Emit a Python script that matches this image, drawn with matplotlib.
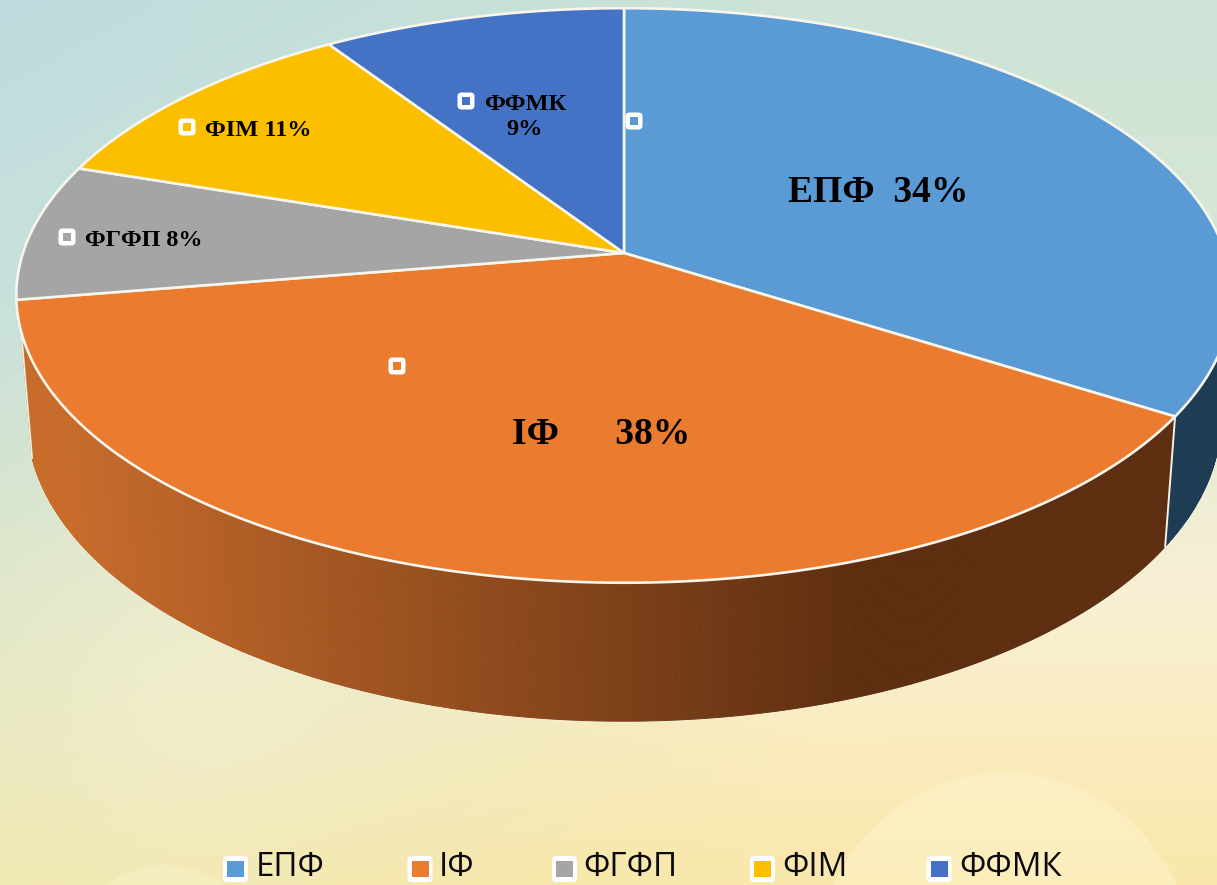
import numpy as np
import matplotlib
matplotlib.use("Agg")
import matplotlib.pyplot as plt
from matplotlib.colors import to_rgb
from matplotlib.patches import FancyBboxPatch, Circle

categories = ["ЕПФ", "ІФ", "ФГФП", "ФІМ", "ФФМК"]
shares = [34.0, 38.4, 7.7, 10.6, 9.3]
top_colors = ["#5B9BD5", "#EA7B2F", "#A5A5A5", "#FCBF00", "#4472C4"]
side_start = ["#1F3C55", "#C86C2C", "#7A7A7A", "#9A7500", "#2A4578"]
side_end = ["#1F3C55", "#5E2E11", "#5A5A5A", "#7A5D00", "#223A66"]

W, H = 1217, 885
fig = plt.figure(figsize=(W / 100, H / 100), dpi=100)
ax = fig.add_axes([0, 0, 1, 1])

# background
gy = np.array([0, 300, 600, 885]) / H
left = np.array([[190, 220, 222], [200, 225, 220], [222, 230, 200], [240, 232, 175]], float) / 255
right = np.array([[205, 228, 214], [216, 232, 215], [250, 240, 212], [250, 232, 170]], float) / 255
yy, xx = np.mgrid[0:1:300j, 0:1:300j]
lc = np.stack([np.interp(yy[:, 0], gy, left[:, k]) for k in range(3)], axis=1)
rc = np.stack([np.interp(yy[:, 0], gy, right[:, k]) for k in range(3)], axis=1)
u = np.clip(xx[0] * 1.5, 0, 1)[None, :, None]
bg = lc[:, None, :] * (1 - u) + rc[:, None, :] * u
glow = np.exp(-(((xx * W - 190) / 230) ** 2 + ((yy * H - 700) / 170) ** 2))[..., None] * 0.45
bg = bg * (1 - glow) + np.array([247, 242, 215]) / 255 * glow
ax.imshow(bg, extent=[0, W, H, 0], aspect="auto", zorder=0, interpolation="bilinear")
ax.set_xlim(0, W)
ax.set_ylim(H, 0)
ax.axis("off")
for cx, cy, r, a in [(1005, 960, 187, 0.38), (165, 960, 95, 0.3)]:
    ax.add_patch(Circle((cx, cy), r, fc="#FFF8D8", ec="none", alpha=a, zorder=0.5))

# perspective disc
X0, Y0, A, B, K = 624, 253, 601, 281, 0.1478
SX, SY, DEPTH = 0.982, 1.05, 122
WALL_TOP = 330


def top_xy(theta):
    u, v = np.sin(theta), np.cos(theta)
    w = 1 + K * v
    return X0 + A * u / w, Y0 - B * v / w


def low_xy(theta):
    x, y = top_xy(theta)
    return X0 + SX * (x - X0), Y0 + DEPTH + SY * (y - Y0)


fr = np.cumsum([0] + shares) / sum(shares) * 2 * np.pi

# side walls: only the first two wedges face the viewer
for i in range(2):
    n = max(int((fr[i + 1] - fr[i]) * 200), 2)
    th = np.linspace(fr[i], fr[i + 1], n + 1)
    x1, y1 = top_xy(th)
    x2, y2 = low_xy(th)
    c0, c1 = np.array(to_rgb(side_start[i])), np.array(to_rgb(side_end[i]))
    keep = (y2 > y1) & (np.gradient(x2) != 0)
    if i == 1:
        keep &= y1 > WALL_TOP
    else:
        keep &= th > 0.35 * np.pi
    idx = np.flatnonzero(keep[:-1] & keep[1:])
    ax.plot(x2[idx], y2[idx], color="#F8F4E4", lw=1.6, zorder=0.9)
    for j in idx:
        s = np.clip((x1[j] - 60) / 800, 0, 1)
        col = c0 * (1 - s) + c1 * s
        ax.fill([x1[j], x1[j + 1], x2[j + 1], x2[j]],
                [y1[j], y1[j + 1], y2[j + 1], y2[j]],
                fc=col, ec=col, lw=0.7, zorder=1)
    if i == 1:
        j = idx[-1]
        ax.plot([x1[j], x2[j]], [y1[j], y2[j]], color="#F4F2E6", lw=1.2, zorder=1.2)

# top faces
for i, (a0, a1) in enumerate(zip(fr[:-1], fr[1:])):
    th = np.linspace(a0, a1, 240)
    x, y = top_xy(th)
    ax.fill(np.r_[X0, x], np.r_[Y0, y], fc=top_colors[i], ec="#F8F6EC", lw=1.9,
            joinstyle="round", zorder=2)

# seam between the two visible walls
xa, ya = top_xy(fr[1])
xb, yb = low_xy(fr[1])
ax.plot([xa, xb], [ya, yb], color="#F4F2E6", lw=1.4, zorder=1.5)

serif = "Liberation Serif"
ax.text(878, 193, "ЕПФ  34%", family=serif, weight="bold", size=27, ha="center", va="center", zorder=4)
ax.text(601, 434, "ІФ      38%", family=serif, weight="bold", size=27, ha="center", va="center", zorder=4)
ax.text(144, 240, "ФГФП 8%", family=serif, weight="bold", size=17.4, ha="center", va="center", zorder=4)
ax.text(258.5, 131, "ФІМ 11%", family=serif, weight="bold", size=17.5, ha="center", va="center", zorder=4)
ax.text(525, 117, "ФФМК\n9%", family=serif, weight="bold", size=17.5, ha="center", va="center",
        linespacing=1.3, zorder=4)


def key(x, y, color, outer_w, outer_h, inner_w, inner_h, rounding):
    ax.add_patch(FancyBboxPatch((x - outer_w / 2 + rounding, y - outer_h / 2 + rounding),
                                outer_w - 2 * rounding, outer_h - 2 * rounding,
                                boxstyle=f"round,pad={rounding},rounding_size={rounding}",
                                fc="white", ec="none", zorder=4))
    ax.fill([x - inner_w / 2, x + inner_w / 2, x + inner_w / 2, x - inner_w / 2],
            [y - inner_h / 2, y - inner_h / 2, y + inner_h / 2, y + inner_h / 2],
            fc=color, ec="none", zorder=4.1)


for (x, y), c in zip([(634, 121), (397, 366), (67, 237), (187, 127), (466, 101)], top_colors):
    key(x, y, c, 17, 17, 8, 8, 4)

legend_key_x = [235.5, 420, 564.5, 762.5, 939]
legend_text_x = [256, 439, 583, 782, 959]
for kx, tx, name, c in zip(legend_key_x, legend_text_x, categories, top_colors):
    key(kx, 869, c, 25, 26, 17, 16, 4)
    ax.text(tx, 868, name, family="Open Sans", size=23.8, ha="left", va="center", color="#0A0A0A", zorder=4)

fig.savefig("out.png", dpi=100)
